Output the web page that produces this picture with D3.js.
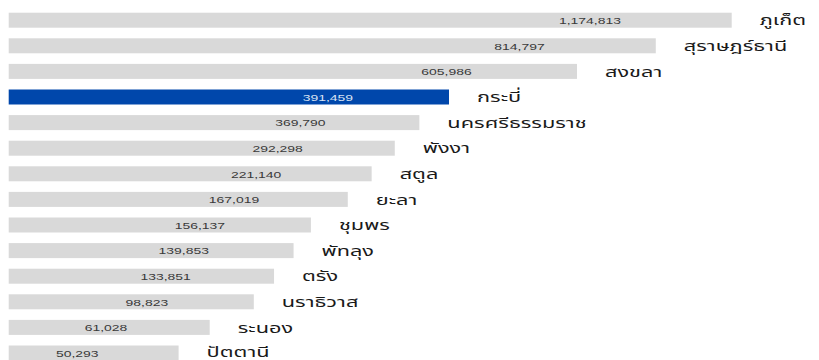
<!DOCTYPE html>
<html><head><meta charset="utf-8">
<script src="https://cdn.jsdelivr.net/npm/d3@7"></script>
<style>html,body{margin:0;padding:0;background:#fff;overflow:hidden}</style>
</head><body>
<svg id="c" width="819" height="360"></svg>
<script>
const provinces = ["ภูเก็ต","สุราษฎร์ธานี","สงขลา","กระบี่","นครศรีธรรมราช","พังงา","สตูล","ยะลา","ชุมพร","พัทลุง","ตรัง","นราธิวาส","ระนอง","ปัตตานี"];
const values = [1174813,814797,605986,391459,369790,292298,221140,167019,156137,139853,133851,98823,61028,50293];
// bar length index (as drawn in the reference, relative to longest = 100)
const barIndex = [100,89.5,78.6,60.9,56.8,53.4,50.2,46.9,41.8,39.4,36.7,33.9,27.8,23.5];
const highlight = "กระบี่";

const svg = d3.select("#c");
const x0 = 8.7, sx = 1.5;
const x = d3.scaleLinear().domain([0,100]).range([x0, x0+723]);
const y = d3.scaleBand().domain(provinces).range([12.7, 360.5]).paddingInner(0.414).paddingOuter(0).align(0);
const fmt = d3.format(",");
const data = provinces.map((p,i)=>({p, v:values[i], b:barIndex[i]}));

svg.selectAll("rect.bar").data(data).join("rect")
  .attr("x", x0).attr("y", d=>y(d.p))
  .attr("width", d=>x(d.b)-x0).attr("height", y.bandwidth())
  .attr("fill", d=>d.p===highlight ? "#0047ab" : "#d9d9d9");

svg.selectAll("text.val").data(data).join("text")
  .attr("transform", d=>{const w=x(d.b)-x0; return `translate(${x0+0.927*w-89},${y(d.p)+y.bandwidth()/2+0.7}) scale(${sx},1)`;})
  .attr("text-anchor","middle").attr("dominant-baseline","central")
  .attr("font-family","Liberation Sans, Arial, sans-serif").attr("font-size",9.3)
  .attr("fill", d=>d.p===highlight ? "#d8e2f2" : "#3a3a3a")
  .text(d=>fmt(d.v));

svg.selectAll("text.name").data(data).join("text")
  .attr("transform", (d,i)=>`translate(${x(d.b)+28},${Math.min(y(d.p)+y.bandwidth()/2+0.5, 352)}) scale(${sx},1)`)
  .attr("dominant-baseline","central")
  .attr("font-family","'Noto Sans Thai', 'Noto Sans', sans-serif").attr("font-size",14.5)
  .attr("fill","#1a1a1a")
  .text(d=>d.p);
</script>
</body></html>
